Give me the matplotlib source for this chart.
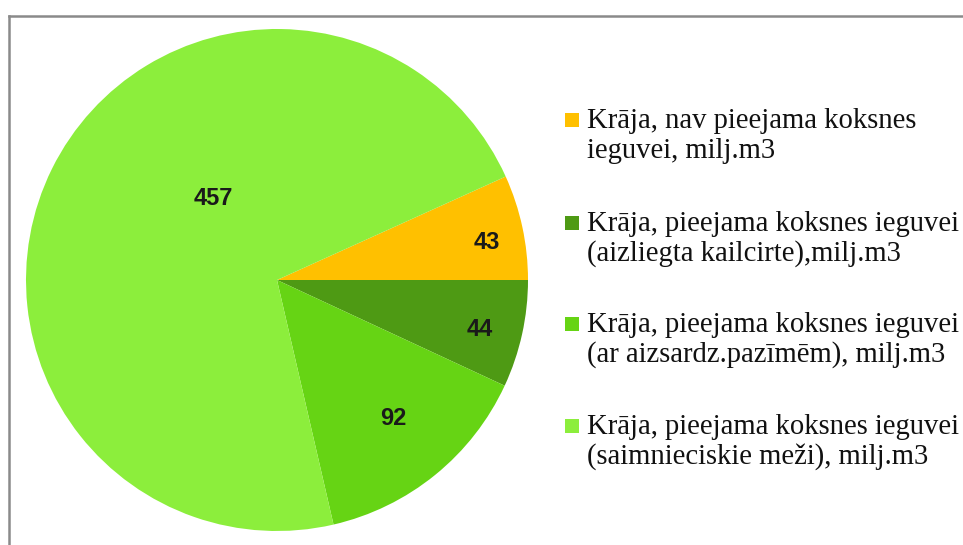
import numpy as np
import matplotlib
matplotlib.use("Agg")
import matplotlib.pyplot as plt
from matplotlib.lines import Line2D
from matplotlib.patches import Rectangle

# data
categories = [
    "Krāja, nav pieejama koksnes\nieguvei, milj.m3",
    "Krāja, pieejama koksnes ieguvei\n(aizliegta kailcirte),milj.m3",
    "Krāja, pieejama koksnes ieguvei\n(ar aizsardz.pazīmēm), milj.m3",
    "Krāja, pieejama koksnes ieguvei\n(saimnieciskie meži), milj.m3",
]
values = [43, 44, 92, 457]

# styles
colors = ["#FFC000", "#4E9A14", "#66D414", "#8CEE3C"]
label_r = [0.85, 0.83, 0.72, 0.41]
label_shift = [-2.0, -1.4, 0.9, -25.6]

W, H = 963, 545
fig = plt.figure(figsize=(W / 100, H / 100), dpi=100)

# pie axes, square in pixels
cx, cy, r = 277, 280, 251
ax = fig.add_axes([(cx - r) / W, (H - cy - r) / H, 2 * r / W, 2 * r / H])
start = 360 * values[0] / sum(values)
wedges, _ = ax.pie(values, colors=colors, startangle=start, counterclock=False,
                   radius=1, wedgeprops=dict(linewidth=0))
ax.set_xlim(-1, 1)
ax.set_ylim(-1, 1)
ax.set_aspect("auto")
ax.axis("off")

for w, v, lr, sh in zip(wedges, values, label_r, label_shift):
    ang = np.deg2rad((w.theta1 + w.theta2) / 2 + sh)
    ax.text(lr * np.cos(ang), lr * np.sin(ang), str(v), ha="center", va="center",
            fontsize=17, fontweight="bold", color="#1a1a1a",
            family="Liberation Sans")

# legend drawn by hand
leg_x = 587
base_y = [128, 231, 332, 434]
line_h = 30
for lab, col, by in zip(categories, colors, base_y):
    fig.patches.append(Rectangle(((leg_x - 22) / W, 1 - (by - 1) / H), 14 / W, 14 / H,
                                 transform=fig.transFigure, facecolor=col,
                                 edgecolor="none"))
    for i, line in enumerate(lab.split("\n")):
        fig.text(leg_x / W, 1 - (by + i * line_h) / H, line, ha="left", va="baseline",
                 fontsize=20.6, family="Liberation Serif", color="#111111")

# outer frame (top and left edges visible)
fig.add_artist(Line2D([8.5 / W, 8.5 / W], [0, 1 - 15.5 / H], color="#8a8a8a", lw=1.8))
fig.add_artist(Line2D([8.5 / W, 1], [1 - 15.5 / H, 1 - 15.5 / H], color="#8a8a8a", lw=1.8))

fig.savefig("out.png", dpi=100)
